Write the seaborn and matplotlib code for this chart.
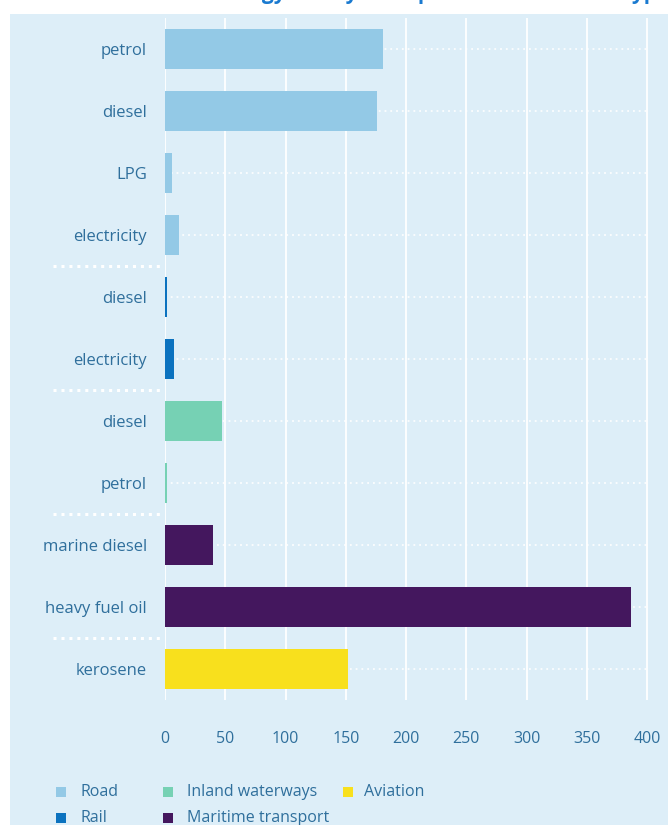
import matplotlib
matplotlib.use("Agg")
import matplotlib.pyplot as plt
import matplotlib.patches as mpatches
import seaborn as sns
import pandas as pd

# Final energy use by transport mode and fuel (PJ)
modes = ["Road", "Road", "Road", "Road",
         "Rail", "Rail",
         "Inland waterways", "Inland waterways",
         "Maritime transport", "Maritime transport",
         "Aviation"]
fuels = ["petrol", "diesel", "LPG", "electricity",
         "diesel", "electricity",
         "diesel", "petrol",
         "marine diesel", "heavy fuel oil",
         "kerosene"]
values = [181, 176, 6, 12, 2, 7.5, 47, 2, 40, 387, 152]

legend_order = ["Road", "Rail", "Inland waterways", "Maritime transport", "Aviation"]
mode_colors = ["#93c9e6", "#0b72bf", "#76d1b4", "#44175e", "#f8e01d"]
x_ticks = [0, 50, 100, 150, 200, 250, 300, 350, 400]

BG = "#ddeef8"
TXT = "#2f6f9c"

df = pd.DataFrame({"mode": modes, "fuel": fuels, "value": values})
df["key"] = [f"{m}|{f}" for m, f in zip(modes, fuels)]

sns.set_theme(style="white")
plt.rcParams["font.family"] = ["Open Sans", "DejaVu Sans"]

fig = plt.figure(figsize=(6.68, 8.25), dpi=100)
W, H = 668, 825
fig.patch.set_facecolor("white")
# light panel behind the whole chart
fig.add_artist(mpatches.Rectangle((10 / W, 0), 1 - 10 / W, 1 - 14 / H,
                                  transform=fig.transFigure, facecolor=BG,
                                  edgecolor="none", zorder=-5))

ax = fig.add_axes([165 / W, 1 - 700 / H, (668 - 165) / W, (700 - 18) / H])
ax.set_zorder(1)
ax.set_facecolor(BG)

palette = dict(zip(legend_order, mode_colors))
sns.barplot(data=df, x="value", y="key", hue="mode", order=list(df["key"]),
            hue_order=legend_order, palette=palette, dodge=False, width=0.65,
            saturation=1, legend=False, linewidth=0, ax=ax, zorder=3)

px = (647 - 165) / 400
ax.set_xlim(0, (668 - 165) / px)
ax.set_ylim(len(df) - 0.5, -0.5)

# vertical white grid lines
for t in x_ticks:
    ax.axvline(t, color="white", lw=1.3, zorder=1)
# dotted guide line across each row
ax.hlines(range(len(df)), 0, 400, colors="white", linestyles=(0, (1, 2.2)),
          lw=1.3, alpha=0.9, zorder=2)
# dotted separators between transport modes in the label column
for i in range(1, len(df)):
    if modes[i] != modes[i - 1]:
        ax.plot([-(165 - 53) / px, -2 / px], [i - 0.5, i - 0.5], color="white",
                ls=(0, (1, 1.6)), lw=2.2, clip_on=False, zorder=2)

ax.set_xticks(x_ticks)
ax.set_xticklabels([str(t) for t in x_ticks])
ax.set_yticks(range(len(df)))
ax.set_yticklabels(fuels)
ax.tick_params(axis="y", length=0, pad=13, labelsize=12, labelcolor=TXT)
ax.tick_params(axis="x", length=0, pad=22, labelsize=11.5, labelcolor=TXT)
ax.set_xlabel("")
ax.set_ylabel("")
for s in ax.spines.values():
    s.set_visible(False)

# legend: square swatch plus label, laid out in two rows
legend_slots = {
    "Road": (56, 792, 81),
    "Rail": (56, 818, 81),
    "Inland waterways": (163, 792, 187),
    "Maritime transport": (163, 818, 187),
    "Aviation": (343, 792, 364),
}
for m, c in zip(legend_order, mode_colors):
    sx, sy, tx = legend_slots[m]
    fig.add_artist(mpatches.Rectangle((sx / W, 1 - (sy + 5) / H), 10 / W, 10 / H,
                                      transform=fig.transFigure, facecolor=c,
                                      edgecolor="none"))
    fig.text(tx / W, 1 - sy / H, m, ha="left", va="center", fontsize=11.5,
             color=TXT)

# chart title, running off the top edge
fig.text(215 / W, 1 + 1 / H, "Energy use by transport mode and fuel type, 2015",
         ha="left", va="baseline", fontsize=15, fontweight="bold", color="#1a7ad0")

fig.savefig("out.png", dpi=100, facecolor=fig.get_facecolor())
